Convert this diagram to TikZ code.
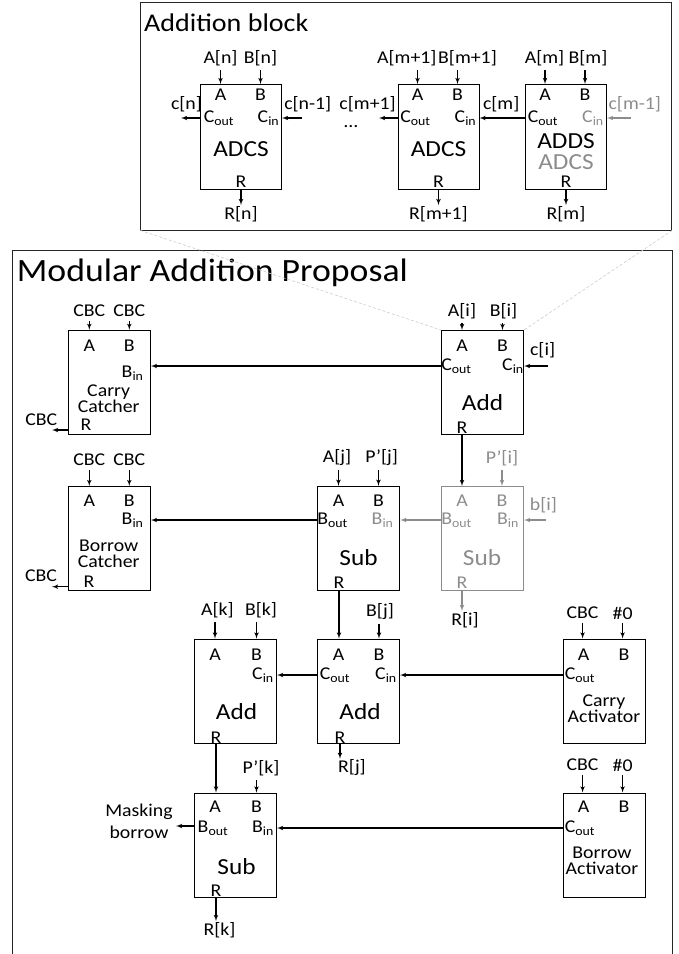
\documentclass[tikz,border=0pt]{standalone}
\usepackage{fontspec}
\setmainfont{Carlito}[FakeStretch=1.1]
\usetikzlibrary{arrows}

\definecolor{ghost}{gray}{0.55}
\definecolor{zoomgray}{gray}{0.8}

\tikzset{
  blk/.style={draw,line width=1pt,minimum width=82pt,minimum height=104pt,inner sep=0pt},
  port/.style={font=\fontsize{18}{18}\selectfont,inner sep=1pt},
  op/.style={font=\fontsize{23}{23}\selectfont,inner sep=0pt},
  note/.style={font=\fontsize{18}{16.2}\selectfont,align=center,inner sep=0pt},
  wire/.style={line width=1.1pt,-{latex'}},
  feed/.style={wire,shorten <=3pt},
  frame/.style={draw=black!85,line width=.8pt,inner sep=0pt},
  zoomline/.style={zoomgray,line width=.6pt,densely dashed},
}

\begin{document}
\begin{tikzpicture}[x=1pt,y=-1pt]
  \useasboundingbox (0,0) rectangle (678,954);

  % frames
  \node[frame,minimum width=531pt,minimum height=227.5pt] (top) at (406.2,116.25) {};
  \node[frame,minimum width=659.3pt,minimum height=720pt] (low) at (342.35,610) {};
  \node[anchor=base west,inner sep=0pt,font=\fontsize{25.5}{25.5}\selectfont] (toptitle) at (144,31.7) {Addition block};
  \node[anchor=base west,inner sep=0pt,font=\fontsize{32.5}{32.5}\selectfont] (lowtitle) at (16.7,281.7) {Modular Addition Proposal};

  % ---- addition block ----
  \node[blk,minimum width=81pt,minimum height=105pt] (adcsn) at (241,137) {};
  \node[port] (adcsn-a) at (220.5,95) {A};
  \node[port] (adcsn-b) at (260.5,95) {B};
  \node[port] (adcsn-co) at (219,118) {C\textsubscript{out}};
  \node[port] (adcsn-ci) at (268.5,118) {C\textsubscript{in}};
  \node[op] (adcsn-op) at (241,149) {ADCS};
  \node[port] (adcsn-r) at (241,182) {R};
  \node[port] (an) at (220.5,58) {A[n]};
  \node[port] (bn) at (260.5,58) {B[n]};
  \node[port] (cn) at (186.5,104) {c[n]};
  \node[port] (cn1) at (307.8,104) {c[n-1]};
  \node[port] (rn) at (241,214) {R[n]};
  \coordinate (cn-end) at (181,118);
  \coordinate (cn1-start) at (302,118);
  \draw[feed] (an.south -| adcsn-a) -- (adcsn.north -| adcsn-a);
  \draw[feed] (bn.south -| adcsn-b) -- (adcsn.north -| adcsn-b);
  \draw[wire] (adcsn.west |- cn-end) -- (cn-end);
  \draw[wire] (cn1-start) -- (adcsn.east |- cn1-start);
  \draw[wire] (adcsn.south -| adcsn-r) -- (adcsn-r |- rn.north);

  \node[blk,minimum width=81pt,minimum height=105pt] (adcsm1) at (438.5,137) {};
  \node[port] (adcsm1-a) at (417.5,95) {A};
  \node[port] (adcsm1-b) at (457.5,95) {B};
  \node[port] (adcsm1-co) at (415.5,118) {C\textsubscript{out}};
  \node[port] (adcsm1-ci) at (465.5,118) {C\textsubscript{in}};
  \node[op] (adcsm1-op) at (438.5,149) {ADCS};
  \node[port] (adcsm1-r) at (438.5,182) {R};
  \node[port] (am1) at (406.8,58) {A[m+1]};
  \node[port] (bm1) at (467.5,58) {B[m+1]};
  \node[port] (cm1) at (367.6,104) {c[m+1]};
  \node[port,inner sep=0pt] (dots) at (351,127) {\dots};
  \node[port] (rm1) at (438.5,214) {R[m+1]};
  \coordinate (cm1-end) at (379,118);
  \draw[feed] (am1.south -| adcsm1-a) -- (adcsm1.north -| adcsm1-a);
  \draw[feed] (bm1.south -| adcsm1-b) -- (adcsm1.north -| adcsm1-b);
  \draw[wire] (adcsm1.west |- cm1-end) -- (cm1-end);
  \draw[wire] (adcsm1.south -| adcsm1-r) -- (adcsm1-r |- rm1.north);

  \node[blk,minimum width=81pt,minimum height=105pt] (adcsm) at (566,137) {};
  \node[port] (adcsm-a) at (545,95) {A};
  \node[port] (adcsm-b) at (585,95) {B};
  \node[port] (adcsm-co) at (543,118) {C\textsubscript{out}};
  \node[port,text=ghost] (adcsm-ci) at (593,118) {C\textsubscript{in}};
  \node[op] (adcsm-op) at (566,141) {ADDS};
  \node[op,text=ghost] (adcsm-op2) at (566,162) {ADCS};
  \node[port] (adcsm-r) at (566,182) {R};
  \node[port] (am) at (544.5,58) {A[m]};
  \node[port] (bm) at (588,58) {B[m]};
  \node[port] (cm) at (501.2,104) {c[m]};
  \node[port,text=ghost] (cm0) at (634.8,104) {c[m-1]};
  \node[port] (rm) at (566,214) {R[m]};
  \coordinate (cm0-start) at (631,118);
  \draw[feed] (am.south -| adcsm-a) -- (adcsm.north -| adcsm-a);
  \draw[feed] (bm.south -| adcsm-b) -- (adcsm.north -| adcsm-b);
  \draw[wire,ghost] (cm0-start) -- (adcsm.east |- cm0-start);
  \draw[wire] (adcsm.west |- adcsm-co) -- (adcsm1.east |- adcsm-co);
  \draw[wire] (adcsm.south -| adcsm-r) -- (adcsm-r |- rm.north);

  % ---- modular addition ----
  % carry catcher
  \node[blk] (cc) at (109.3,382.3) {};
  \node[port] (cc-a) at (89.3,346) {A};
  \node[port] (cc-b) at (129.3,346) {B};
  \node[port] (cc-bi) at (132.6,373) {B\textsubscript{in}};
  \node[note] (cc-op) at (108.7,399) {Carry\\Catcher};
  \node[port] (cc-r) at (86,424.5) {R};
  \node[port] (cc-ina) at (89.3,311) {CBC};
  \node[port] (cc-inb) at (129.3,311) {CBC};
  \node[port] (cc-out) at (41.3,420) {CBC};
  \coordinate (cc-end) at (52,430);
  \draw[feed] (cc-ina.south) -- (cc.north -| cc-ina);
  \draw[feed] (cc-inb.south) -- (cc.north -| cc-inb);
  \draw[wire] (cc.west |- cc-end) -- (cc-end);

  % add i
  \node[blk] (addi) at (482.5,382.5) {};
  \node[port] (addi-a) at (462,346) {A};
  \node[port] (addi-b) at (502.5,346) {B};
  \node[port] (addi-co) at (456.5,366) {C\textsubscript{out}};
  \node[port] (addi-ci) at (513,366) {C\textsubscript{in}};
  \node[op] (addi-op) at (482.5,403) {Add};
  \node[port] (addi-r) at (462,428) {R};
  \node[port] (ai) at (462,311) {A[i]};
  \node[port] (bi) at (503.5,311) {B[i]};
  \node[port] (ci) at (542.6,350) {c[i]};
  \coordinate (ci-start) at (548,366);
  \draw[feed] (ai.south) -- (addi.north -| ai);
  \draw[feed] (bi.south -| addi-b) -- (addi.north -| addi-b);
  \draw[wire] (ci-start) -- (addi.east |- ci-start);
  \draw[wire] (addi.west |- addi-co) -- (cc.east |- addi-co);

  % borrow catcher
  \node[blk] (bc) at (109.3,538.5) {};
  \node[port] (bc-a) at (89.3,501) {A};
  \node[port] (bc-b) at (129.3,501) {B};
  \node[port] (bc-bi) at (132.6,520) {B\textsubscript{in}};
  \node[note] (bc-op) at (108.7,553.8) {Borrow\\Catcher};
  \node[port] (bc-r) at (89,581.7) {R};
  \node[port] (bc-ina) at (89.3,460) {CBC};
  \node[port] (bc-inb) at (129.3,460) {CBC};
  \node[port] (bc-out) at (41,576) {CBC};
  \coordinate (bc-end) at (52,586.7);
  \draw[feed] (bc-ina.south) -- (bc.north -| bc-ina);
  \draw[feed] (bc-inb.south) -- (bc.north -| bc-inb);
  \draw[wire] (bc.west |- bc-end) -- (bc-end);

  % sub j
  \node[blk,line width=1.4pt] (subj) at (358.5,538.5) {};
  \node[port] (subj-a) at (338.5,501) {A};
  \node[port] (subj-b) at (378.5,501) {B};
  \node[port] (subj-bo) at (332.6,520) {B\textsubscript{out}};
  \node[port,text=ghost] (subj-bi) at (382.6,520) {B\textsubscript{in}};
  \node[op] (subj-op) at (358.5,558) {Sub};
  \node[port] (subj-r) at (339,582.7) {R};
  \node[port] (aj) at (337,458) {A[j]};
  \node[port] (pj) at (381.7,458) {P'[j]};
  \draw[feed] (aj.south -| subj-a) -- (subj.north -| subj-a);
  \draw[feed] (pj.south -| subj-b) -- (subj.north -| subj-b);
  \draw[wire] (subj.west |- subj-bo) -- (bc.east |- subj-bo);

  % sub i
  \node[blk,draw=ghost] (subi) at (482.5,538.5) {};
  \node[port,text=ghost] (subi-a) at (462,501) {A};
  \node[port,text=ghost] (subi-b) at (502,501) {B};
  \node[port,text=ghost] (subi-bo) at (456.5,520) {B\textsubscript{out}};
  \node[port,text=ghost] (subi-bi) at (508,520) {B\textsubscript{in}};
  \node[op,text=ghost] (subi-op) at (482,558) {Sub};
  \node[port,text=ghost] (subi-r) at (462,582.7) {R};
  \node[port,text=ghost] (pi) at (502,458) {P'[i]};
  \node[port,text=ghost] (bri) at (543.5,505) {b[i]};
  \node[port] (ri) at (465,620) {R[i]};
  \coordinate (bri-start) at (546,520);
  \draw[feed,ghost] (pi.south -| subi-b) -- (subi.north -| subi-b);
  \draw[wire,ghost] (bri-start) -- (subi.east |- bri-start);
  \draw[wire,ghost] (subi.west |- subi-bo) -- (subj.east |- subi-bo);
  \draw[wire,ghost] (subi.south -| subi-r) -- (subi-r |- ri.north);
  \draw[wire] (addi.south -| addi-r) -- (subi.north -| addi-r);

  % add k
  \node[blk] (addk) at (235.5,691) {};
  \node[port] (addk-a) at (215,655) {A};
  \node[port] (addk-b) at (256.5,655) {B};
  \node[port] (addk-ci) at (263,675) {C\textsubscript{in}};
  \node[op] (addk-op) at (236.5,711.7) {Add};
  \node[port] (addk-r) at (216,737.3) {R};
  \node[port] (ak) at (217.4,610) {A[k]};
  \node[port] (bk) at (261,610) {B[k]};
  \draw[feed] (ak.south -| addk-a) -- (addk.north -| addk-a);
  \draw[feed] (bk.south -| addk-b) -- (addk.north -| addk-b);

  % add j
  \node[blk] (addj) at (358.5,691) {};
  \node[port] (addj-a) at (338.5,655) {A};
  \node[port] (addj-b) at (379,655) {B};
  \node[port] (addj-co) at (335,675) {C\textsubscript{out}};
  \node[port] (addj-ci) at (386,675) {C\textsubscript{in}};
  \node[op] (addj-op) at (360,711.7) {Add};
  \node[port] (addj-r) at (340,737.3) {R};
  \node[port] (bj) at (380,612) {B[j]};
  \node[port] (rj) at (352,768) {R[j]};
  \draw[feed] (bj.south -| addj-b) -- (addj.north -| addj-b);
  \draw[wire] (subj.south -| subj-r) -- (addj.north -| subj-r);
  \draw[wire] (addj.south -| addj-r) -- (addj-r |- rj.north);
  \draw[wire] (addj.west |- addj-co) -- (addk.east |- addj-co);

  % carry activator
  \node[blk] (ca) at (604,691) {};
  \node[port] (ca-a) at (583.5,655) {A};
  \node[port] (ca-b) at (624,655) {B};
  \node[port] (ca-co) at (580,675) {C\textsubscript{out}};
  \node[note] (ca-op) at (604,708.6) {Carry\\Activator};
  \node[port] (ca-ina) at (582.6,613) {CBC};
  \node[port] (ca-inb) at (622.6,613) {\#0};
  \draw[feed] (ca-ina.south) -- (ca.north -| ca-ina);
  \draw[feed] (ca-inb.south) -- (ca.north -| ca-inb);
  \draw[wire] (ca.west |- ca-co) -- (addj.east |- ca-co);

  % sub k
  \node[blk] (subk) at (235.5,845) {};
  \node[port] (subk-a) at (215,807) {A};
  \node[port] (subk-b) at (256.5,807) {B};
  \node[port] (subk-bo) at (213,828) {B\textsubscript{out}};
  \node[port] (subk-bi) at (263,828) {B\textsubscript{in}};
  \node[op] (subk-op) at (236.5,866.7) {Sub};
  \node[port] (subk-r) at (216,890.7) {R};
  \node[port] (pk) at (261,768) {P'[k]};
  \node[note,font=\fontsize{18}{22.7}\selectfont] (mask) at (139,821.4) {Masking\\borrow};
  \node[port] (rk) at (219.6,930) {R[k]};
  \coordinate (mask-end) at (176,826);
  \draw[feed] (pk.south -| subk-b) -- (subk.north -| subk-b);
  \draw[wire] (addk.south -| addk-r) -- (subk.north -| addk-r);
  \draw[wire] (subk.west |- mask-end) -- (mask-end);
  \draw[wire] (subk.south -| subk-r) -- (subk-r |- rk.north);

  % borrow activator
  \node[blk] (ba) at (604,845) {};
  \node[port] (ba-a) at (583.5,807) {A};
  \node[port] (ba-b) at (624,807) {B};
  \node[port] (ba-co) at (580,828) {C\textsubscript{out}};
  \node[note] (ba-op) at (602,860.8) {Borrow\\Activator};
  \node[port] (ba-ina) at (582.6,765) {CBC};
  \node[port] (ba-inb) at (622.6,765) {\#0};
  \draw[feed] (ba-ina.south) -- (ba.north -| ba-ina);
  \draw[feed] (ba-inb.south) -- (ba.north -| ba-inb);
  \draw[wire] (ba.west |- ba-co) -- (subk.east |- ba-co);

  % zoom guides
  \draw[zoomline] (top.south west) -- (addi.north west);
  \draw[zoomline] (top.south east) -- (addi.north east);
\end{tikzpicture}
\end{document}
